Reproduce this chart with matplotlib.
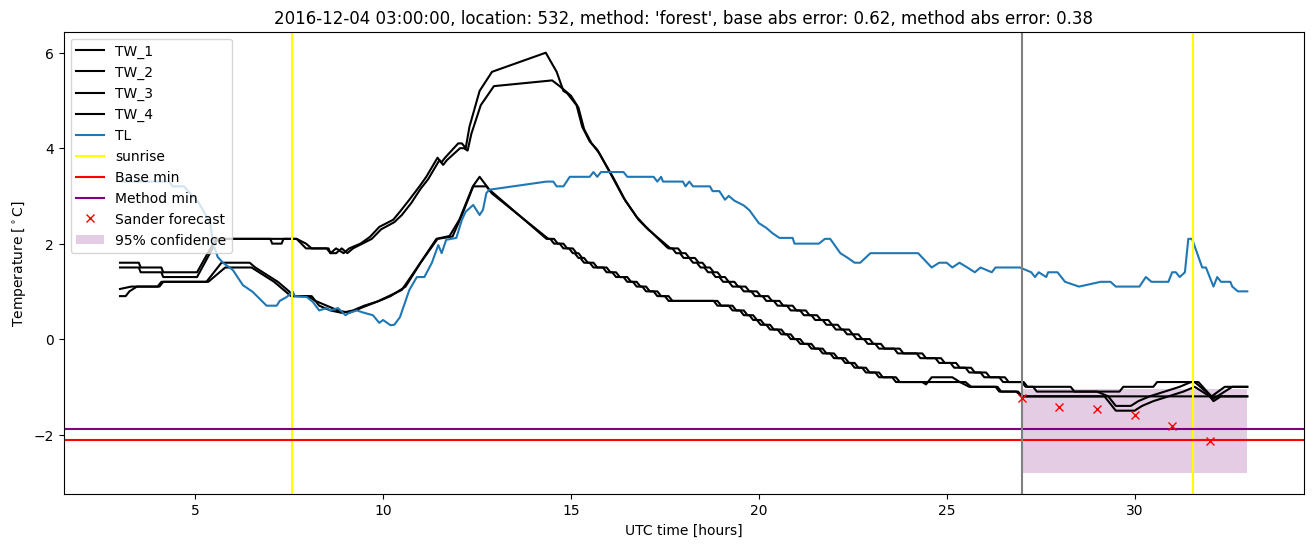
import numpy as np
import matplotlib
matplotlib.use("Agg")
import matplotlib.pyplot as plt

# (hour, temperature) readings taken off the chart
tw_1 = [(3.0, 1.6), (3.5, 1.6), (3.55, 1.5), (4.1, 1.5), (4.15, 1.4), (5.05, 1.4), (5.55, 2.1),
        (7.0, 2.1), (7.05, 2.0), (7.3, 2.0), (7.35, 2.1), (7.7, 2.1), (7.95, 1.9), (8.5, 1.9),
        (8.6, 1.8), (8.75, 1.9), (8.95, 1.8), (9.1, 1.9), (9.4, 2.0), (9.65, 2.14), (9.9, 2.35),
        (10.27, 2.5), (10.45, 2.67), (10.7, 2.92), (10.97, 3.2), (11.15, 3.4), (11.45, 3.8),
        (11.55, 3.7), (11.65, 3.8), (12.0, 4.1), (12.1, 4.1), (12.2, 4.0), (12.3, 4.45),
        (12.57, 5.2), (12.9, 5.6), (14.33, 6.0), (14.62, 5.6), (14.8, 5.2), (14.9, 5.15),
        (15.15, 4.9), (15.3, 4.45), (15.5, 4.14), (15.7, 3.97), (16.1, 3.4), (16.4, 2.96),
        (16.75, 2.56), (17.0, 2.35), (17.55, 1.93),
        (17.6, 1.9), (17.7, 1.9), (17.8, 1.8), (17.9, 1.8), (18.0, 1.7), (18.15, 1.7),
        (18.25, 1.6), (18.35, 1.6), (18.45, 1.5), (18.55, 1.5), (18.65, 1.4), (18.75, 1.4),
        (18.85, 1.3), (18.95, 1.3), (19.05, 1.2), (19.2, 1.2), (19.3, 1.1), (19.5, 1.1),
        (19.6, 1.0), (19.8, 1.0), (19.9, 0.9), (20.1, 0.9), (20.2, 0.8), (20.4, 0.8),
        (20.5, 0.7), (20.75, 0.7), (20.85, 0.6), (21.1, 0.6), (21.2, 0.5), (21.4, 0.5),
        (21.5, 0.4), (21.7, 0.4), (21.8, 0.3), (21.95, 0.3), (22.05, 0.2), (22.25, 0.2),
        (22.35, 0.1), (22.5, 0.1), (22.6, 0.0), (22.8, 0.0), (22.9, -0.1), (23.1, -0.1),
        (23.2, -0.2), (23.6, -0.2), (23.7, -0.3), (24.2, -0.3), (24.3, -0.4), (24.7, -0.4),
        (24.8, -0.5), (25.1, -0.5), (25.2, -0.6), (25.5, -0.6), (25.6, -0.7), (25.9, -0.7),
        (26.0, -0.8), (26.4, -0.8), (26.5, -0.9), (27.0, -0.9), (27.1, -1.0), (28.3, -1.0),
        (28.4, -1.1), (29.6, -1.1), (29.7, -1.0), (30.5, -1.0), (30.6, -0.9), (31.6, -0.9),
        (32.05, -1.2), (32.4, -1.0), (33.0, -1.0)]

tw_2 = [(3.0, 1.5), (3.5, 1.5), (3.55, 1.4), (4.1, 1.4), (4.15, 1.3), (5.05, 1.3), (5.6, 2.1),
        (7.7, 2.1), (7.95, 2.0), (8.1, 1.9), (8.55, 1.9), (8.6, 1.8), (8.75, 1.8), (8.9, 1.9),
        (9.05, 1.8), (9.2, 1.9), (9.45, 2.0), (9.7, 2.1), (9.95, 2.3), (10.3, 2.45), (10.5, 2.6),
        (10.75, 2.85), (11.0, 3.15), (11.2, 3.35), (11.5, 3.75), (11.6, 3.65), (11.7, 3.75),
        (12.05, 4.0), (12.15, 4.0), (12.25, 3.95), (12.35, 4.3), (12.6, 4.9), (12.95, 5.3),
        (14.5, 5.42), (14.7, 5.3), (14.85, 5.2), (15.0, 5.1), (15.2, 4.85), (15.35, 4.4),
        (15.55, 4.1), (15.75, 3.9), (16.15, 3.35), (16.45, 2.9), (16.8, 2.5), (17.05, 2.3),
        (17.65, 1.9), (17.85, 1.9), (17.95, 1.8), (18.05, 1.8), (18.15, 1.7), (18.3, 1.7),
        (18.4, 1.6), (18.5, 1.6), (18.6, 1.5), (18.7, 1.5), (18.8, 1.4), (18.9, 1.4),
        (19.0, 1.3), (19.1, 1.3), (19.2, 1.2), (19.35, 1.2), (19.45, 1.1), (19.65, 1.1),
        (19.75, 1.0), (19.95, 1.0), (20.05, 0.9), (20.25, 0.9), (20.35, 0.8), (20.55, 0.8),
        (20.65, 0.7), (20.9, 0.7), (21.0, 0.6), (21.25, 0.6), (21.35, 0.5), (21.55, 0.5),
        (21.65, 0.4), (21.85, 0.4), (21.95, 0.3), (22.1, 0.3), (22.2, 0.2), (22.4, 0.2),
        (22.5, 0.1), (22.65, 0.1), (22.75, 0.0), (22.95, 0.0), (23.05, -0.1), (23.25, -0.1),
        (23.35, -0.2), (23.75, -0.2), (23.85, -0.3), (24.35, -0.3), (24.45, -0.4), (24.85, -0.4),
        (24.95, -0.5), (25.25, -0.5), (25.35, -0.6), (25.65, -0.6), (25.75, -0.7), (26.05, -0.7),
        (26.15, -0.8), (26.55, -0.8), (26.65, -0.9), (27.05, -0.9), (27.15, -1.0), (27.3, -1.0),
        (27.4, -1.1), (29.0, -1.1), (29.3, -1.2), (29.5, -1.4), (29.9, -1.4), (30.1, -1.3),
        (30.4, -1.2), (30.8, -1.1), (31.2, -1.0), (31.5, -0.9), (31.7, -0.9), (32.1, -1.25),
        (32.4, -1.1), (32.6, -1.0), (33.0, -1.0)]

tw_3 = [(3.0, 1.05), (3.3, 1.1), (4.0, 1.1), (4.1, 1.2), (5.3, 1.2), (5.7, 1.6), (6.45, 1.6),
        (6.6, 1.5), (6.8, 1.4), (7.0, 1.3), (7.2, 1.2), (7.35, 1.1), (7.5, 1.0), (7.6, 0.9),
        (8.0, 0.9), (8.2, 0.8), (8.5, 0.7), (8.8, 0.6), (9.1, 0.55), (9.47, 0.67), (9.83, 0.78),
        (10.1, 0.88), (10.5, 1.03), (10.9, 1.49), (11.42, 2.1), (11.77, 2.16), (12.03, 2.5),
        (12.39, 3.2), (12.57, 3.4), (12.83, 3.13),
        (14.35, 2.1), (14.45, 2.1), (14.55, 2.0), (14.7, 2.0), (14.8, 1.9), (14.95, 1.9),
        (15.05, 1.8), (15.1, 1.8), (15.2, 1.7), (15.25, 1.7), (15.35, 1.6), (15.5, 1.6),
        (15.6, 1.5), (15.85, 1.5), (15.95, 1.4), (16.1, 1.4), (16.2, 1.3), (16.4, 1.3),
        (16.5, 1.2), (16.65, 1.2), (16.75, 1.1), (16.9, 1.1), (17.0, 1.0), (17.2, 1.0),
        (17.3, 0.9), (17.5, 0.9), (17.6, 0.8), (18.8, 0.8), (18.9, 0.7), (19.2, 0.7),
        (19.3, 0.6), (19.5, 0.6), (19.6, 0.5), (19.75, 0.5), (19.85, 0.4), (19.95, 0.4),
        (20.05, 0.3), (20.2, 0.3), (20.3, 0.2), (20.5, 0.2), (20.6, 0.1), (20.75, 0.1),
        (20.85, 0.0), (21.0, 0.0), (21.1, -0.1), (21.3, -0.1), (21.4, -0.2), (21.6, -0.2),
        (21.7, -0.3), (21.9, -0.3), (22.0, -0.4), (22.2, -0.4), (22.3, -0.5), (22.45, -0.5),
        (22.55, -0.6), (22.75, -0.6), (22.85, -0.7), (23.1, -0.7), (23.2, -0.8), (23.55, -0.8),
        (23.65, -0.9), (24.35, -0.9), (24.45, -0.95), (24.6, -0.8), (25.15, -0.8),
        (25.35, -0.9), (25.6, -1.0), (26.3, -1.0), (26.4, -1.1), (26.85, -1.1), (27.0, -1.2),
        (32.0, -1.2), (32.1, -1.3), (32.3, -1.2), (33.0, -1.2)]

tw_4 = [(3.0, 0.9), (3.15, 0.9), (3.25, 1.0), (3.45, 1.1), (4.05, 1.1), (4.15, 1.2), (5.35, 1.2),
        (5.8, 1.5), (6.5, 1.5), (6.7, 1.4), (6.9, 1.3), (7.1, 1.2), (7.25, 1.1), (7.4, 1.0),
        (7.55, 0.9), (8.1, 0.9), (8.3, 0.7), (8.6, 0.6), (8.9, 0.55), (9.2, 0.6), (9.5, 0.7),
        (9.9, 0.8), (10.2, 0.9), (10.6, 1.1), (11.0, 1.6), (11.45, 2.1), (11.85, 2.15),
        (12.1, 2.6), (12.4, 3.2), (12.75, 3.2), (12.9, 3.05),
        (14.4, 2.1), (14.55, 2.1), (14.65, 2.0), (14.8, 2.0), (14.9, 1.9), (15.05, 1.9),
        (15.15, 1.8), (15.2, 1.8), (15.3, 1.7), (15.35, 1.7), (15.45, 1.6), (15.6, 1.6),
        (15.7, 1.5), (15.95, 1.5), (16.05, 1.4), (16.2, 1.4), (16.3, 1.3), (16.5, 1.3),
        (16.6, 1.2), (16.75, 1.2), (16.85, 1.1), (17.0, 1.1), (17.1, 1.0), (17.3, 1.0),
        (17.4, 0.9), (17.6, 0.9), (17.7, 0.8), (18.9, 0.8), (19.0, 0.7), (19.3, 0.7),
        (19.4, 0.6), (19.6, 0.6), (19.7, 0.5), (19.85, 0.5), (19.95, 0.4), (20.05, 0.4),
        (20.15, 0.3), (20.3, 0.3), (20.4, 0.2), (20.6, 0.2), (20.7, 0.1), (20.85, 0.1),
        (20.95, 0.0), (21.1, 0.0), (21.2, -0.1), (21.4, -0.1), (21.5, -0.2), (21.7, -0.2),
        (21.8, -0.3), (22.0, -0.3), (22.1, -0.4), (22.3, -0.4), (22.4, -0.5), (22.55, -0.5),
        (22.65, -0.6), (22.85, -0.6), (22.95, -0.7), (23.2, -0.7), (23.3, -0.8), (23.65, -0.8),
        (23.75, -0.9), (25.5, -0.9), (25.65, -1.0), (26.35, -1.0), (26.45, -1.1), (26.9, -1.1),
        (27.0, -1.2), (29.2, -1.2), (29.5, -1.5), (30.0, -1.5), (30.2, -1.4), (30.5, -1.3),
        (30.9, -1.2), (31.3, -1.1), (31.6, -1.0), (32.0, -1.2), (33.0, -1.2)]

tl = [(3.0, 3.3), (4.3, 3.3), (4.4, 3.2), (4.7, 3.2), (5.1, 2.85), (5.4, 2.43), (5.48, 2.0),
      (5.6, 1.72), (5.74, 1.6), (6.0, 1.45), (6.27, 1.13), (6.53, 0.99), (6.9, 0.7), (7.17, 0.7),
      (7.25, 0.8), (7.43, 0.88), (7.6, 0.99), (7.65, 0.9), (7.97, 0.88), (8.13, 0.78), (8.3, 0.6),
      (8.5, 0.65), (8.6, 0.6), (8.8, 0.65), (9.0, 0.5), (9.1, 0.55), (9.3, 0.6), (9.5, 0.55),
      (9.73, 0.5), (9.9, 0.34), (10.0, 0.4), (10.2, 0.29), (10.3, 0.3), (10.45, 0.46),
      (10.6, 0.8), (10.7, 1.03), (10.9, 1.3), (11.1, 1.3), (11.3, 1.6), (11.47, 1.97),
      (11.56, 1.8), (11.68, 2.08), (11.95, 2.12), (12.1, 2.5), (12.2, 2.67), (12.4, 2.81),
      (12.57, 2.6), (12.66, 2.71), (12.75, 3.06), (12.83, 3.13), (14.35, 3.3), (14.53, 3.3),
      (14.62, 3.2), (14.8, 3.2), (14.97, 3.4), (15.5, 3.4), (15.6, 3.5), (15.7, 3.4), (15.8, 3.5),
      (16.4, 3.5), (16.5, 3.4), (17.2, 3.4), (17.3, 3.3), (17.4, 3.4), (17.45, 3.3), (17.98, 3.3),
      (18.05, 3.2), (18.15, 3.3), (18.25, 3.2), (18.7, 3.2), (18.77, 3.1), (18.95, 3.1),
      (19.1, 2.92), (19.2, 3.0), (19.35, 2.9), (19.6, 2.8), (19.75, 2.7), (20.0, 2.43),
      (20.2, 2.33), (20.36, 2.22), (20.55, 2.12), (20.9, 2.12), (20.95, 2.0), (21.6, 2.0),
      (21.76, 2.1), (21.9, 2.1), (22.17, 1.8), (22.37, 1.7), (22.55, 1.6), (22.7, 1.6),
      (22.97, 1.8), (24.24, 1.8), (24.6, 1.5), (24.8, 1.6), (25.0, 1.6), (25.15, 1.5),
      (25.34, 1.6), (25.55, 1.5), (25.75, 1.4), (25.9, 1.5), (26.2, 1.4), (26.3, 1.5),
      (26.95, 1.5), (27.25, 1.4), (27.35, 1.3), (27.45, 1.4), (27.65, 1.3), (27.7, 1.4),
      (27.95, 1.4), (28.15, 1.2), (28.52, 1.1), (29.1, 1.2), (29.36, 1.2), (29.5, 1.1),
      (30.13, 1.1), (30.3, 1.3), (30.45, 1.2), (30.9, 1.2), (31.0, 1.4), (31.1, 1.4),
      (31.2, 1.3), (31.34, 1.4), (31.43, 2.1), (31.53, 2.1), (31.8, 1.5), (31.9, 1.5),
      (32.1, 1.1), (32.2, 1.3), (32.3, 1.2), (32.55, 1.2), (32.6, 1.1), (32.75, 1.0), (33.0, 1.0)]

sunrise = [7.57, 31.55]
base_min = -2.12
method_min = -1.89
forecast_start = 27.0

sander_hours = [27, 28, 29, 30, 31, 32]
sander_temp = [-1.23, -1.43, -1.46, -1.60, -1.83, -2.14]

conf_hours = [27.0, 33.0]
conf_low = [-2.8, -2.8]
conf_high = [-1.05, -1.05]

fig, ax = plt.subplots(figsize=(16, 6))

for name, series in [("TW_1", tw_1), ("TW_2", tw_2), ("TW_3", tw_3), ("TW_4", tw_4)]:
    xs, ys = zip(*series)
    ax.plot(xs, ys, color="black", label=name)

xs, ys = zip(*tl)
ax.plot(xs, ys, color="C0", label="TL")

ax.axvline(sunrise[0], color="yellow", label="sunrise")
ax.axvline(sunrise[1], color="yellow")
ax.axhline(base_min, color="red", label="Base min")
ax.axhline(method_min, color="purple", label="Method min")
ax.axvline(forecast_start, color="gray")
ax.plot(sander_hours, sander_temp, "rx", label="Sander forecast")
ax.fill_between(conf_hours, conf_low, conf_high, color="purple", alpha=0.2,
                linewidth=0, label="95% confidence")

ax.set_title("2016-12-04 03:00:00, location: 532, method: 'forest', "
             "base abs error: 0.62, method abs error: 0.38")
ax.set_xlabel("UTC time [hours]")
ax.set_ylabel("Temperature [$^\\circ$C]")
ax.legend(loc="upper left")

fig.savefig("out.png", bbox_inches="tight")
